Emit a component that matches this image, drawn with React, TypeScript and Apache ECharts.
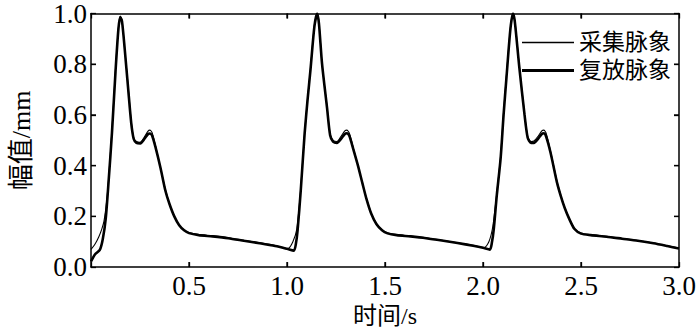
import React, { useEffect, useRef } from "react";
import * as echarts from "echarts";

const seriesNames = ["采集脉象", "复放脉象"];
const xTickValues = [0, 0.5, 1.0, 1.5, 2.0, 2.5, 3.0];
const yTickValues = [0, 0.2, 0.4, 0.6, 0.8, 1.0];

// 采集脉象 (thin line): [time s, amplitude mm]
const acquiredPulse: [number, number][] = [
  [0, 0.07], [0.02, 0.09], [0.04, 0.12], [0.055, 0.15], [0.066, 0.18], [0.08, 0.26], [0.09, 0.35],
  [0.107, 0.54], [0.125, 0.78], [0.14, 0.945], [0.149, 0.99], [0.158, 0.975], [0.172, 0.86],
  [0.19, 0.71], [0.205, 0.575], [0.218, 0.51], [0.232, 0.495], [0.25, 0.492], [0.27, 0.51],
  [0.29, 0.535], [0.3, 0.54], [0.312, 0.53], [0.33, 0.475], [0.355, 0.39], [0.38, 0.305],
  [0.4, 0.25], [0.425, 0.2], [0.45, 0.165], [0.475, 0.146], [0.5, 0.136], [0.55, 0.128],
  [0.62, 0.123], [0.7, 0.116], [0.78, 0.106], [0.86, 0.096], [0.94, 0.085], [1.005, 0.073],
  [1.03, 0.1], [1.05, 0.15], [1.07, 0.31], [1.09, 0.53], [1.105, 0.665], [1.12, 0.785],
  [1.14, 0.955], [1.154, 1.0], [1.163, 0.965], [1.179, 0.8], [1.204, 0.635], [1.22, 0.525],
  [1.235, 0.5], [1.255, 0.495], [1.275, 0.515], [1.295, 0.537], [1.305, 0.54], [1.318, 0.528],
  [1.34, 0.465], [1.362, 0.4], [1.385, 0.33], [1.405, 0.272], [1.43, 0.212], [1.456, 0.172],
  [1.485, 0.147], [1.513, 0.135], [1.56, 0.128], [1.63, 0.122], [1.71, 0.116], [1.79, 0.106],
  [1.87, 0.096], [1.95, 0.086], [2.005, 0.076],
  [2.03, 0.1], [2.05, 0.16], [2.07, 0.29], [2.09, 0.44], [2.105, 0.61], [2.12, 0.76],
  [2.14, 0.945], [2.153, 1.0], [2.163, 0.97], [2.185, 0.795], [2.212, 0.605], [2.228, 0.515],
  [2.245, 0.495], [2.26, 0.497], [2.28, 0.515], [2.3, 0.537], [2.31, 0.54], [2.322, 0.528],
  [2.345, 0.455], [2.377, 0.34], [2.397, 0.283], [2.417, 0.235], [2.44, 0.192], [2.467, 0.152],
  [2.5, 0.134], [2.55, 0.128], [2.63, 0.121], [2.71, 0.113], [2.79, 0.105], [2.87, 0.095],
  [2.94, 0.084], [3.0, 0.075],
];

// 复放脉象 (thick line): [time s, amplitude mm]
const replayedPulse: [number, number][] = [
  [0, 0.022], [0.02, 0.05], [0.045, 0.068], [0.06, 0.11], [0.075, 0.19], [0.09, 0.34],
  [0.107, 0.53], [0.125, 0.77], [0.14, 0.94], [0.149, 0.985], [0.158, 0.97], [0.172, 0.86],
  [0.19, 0.7], [0.205, 0.57], [0.218, 0.505], [0.232, 0.49], [0.252, 0.488], [0.272, 0.505],
  [0.29, 0.524], [0.3, 0.527], [0.312, 0.518], [0.33, 0.47], [0.355, 0.39], [0.38, 0.3],
  [0.4, 0.25], [0.425, 0.2], [0.45, 0.165], [0.475, 0.145], [0.5, 0.134], [0.55, 0.126],
  [0.62, 0.121], [0.7, 0.114], [0.78, 0.104], [0.86, 0.094], [0.94, 0.083], [1.0, 0.072],
  [1.035, 0.065],
  [1.045, 0.09], [1.054, 0.145], [1.07, 0.3], [1.09, 0.527], [1.105, 0.66], [1.12, 0.78],
  [1.14, 0.95], [1.154, 1.0], [1.163, 0.96], [1.179, 0.8], [1.204, 0.63], [1.22, 0.52],
  [1.235, 0.495], [1.255, 0.49], [1.275, 0.505], [1.295, 0.525], [1.305, 0.528], [1.318, 0.518],
  [1.34, 0.46], [1.362, 0.4], [1.385, 0.33], [1.405, 0.27], [1.43, 0.21], [1.456, 0.17],
  [1.485, 0.145], [1.513, 0.133], [1.56, 0.126], [1.63, 0.121], [1.71, 0.114], [1.79, 0.105],
  [1.87, 0.095], [1.95, 0.084], [2.0, 0.076], [2.035, 0.069],
  [2.045, 0.095], [2.055, 0.15], [2.07, 0.28], [2.09, 0.43], [2.105, 0.6], [2.12, 0.75],
  [2.14, 0.94], [2.153, 1.0], [2.162, 0.97], [2.185, 0.79], [2.212, 0.6], [2.228, 0.51],
  [2.245, 0.49], [2.26, 0.49], [2.28, 0.505], [2.3, 0.525], [2.31, 0.528], [2.322, 0.515],
  [2.345, 0.45], [2.377, 0.335], [2.397, 0.28], [2.417, 0.233], [2.44, 0.19], [2.467, 0.15],
  [2.5, 0.132], [2.55, 0.126], [2.63, 0.12], [2.71, 0.112], [2.79, 0.104], [2.87, 0.094],
  [2.94, 0.083], [3.0, 0.073],
];

const serif = "'Liberation Serif', 'Noto Sans CJK SC', serif";

const mkLine = () => ({ show: true, onZero: false, lineStyle: { color: "#000", width: 1.5 } });
const mkTick = () => ({ show: true, inside: true, length: 5, lineStyle: { color: "#000", width: 1.3 } });
const mkSplit = () => ({ show: false });

export default function App() {
  const ref = useRef<HTMLDivElement>(null);
  useEffect(() => {
    document.body.style.margin = "0";
    if (!ref.current) return;
    const chart = echarts.init(ref.current, null, { renderer: "svg" });
    const xMin = xTickValues[0];
    const xMax = xTickValues[xTickValues.length - 1];
    const yMin = yTickValues[0];
    const yMax = yTickValues[yTickValues.length - 1];
    chart.setOption({
      animation: false,
      grid: { left: 82, right: 21, top: 9, bottom: 62 },
      legend: {
        orient: "vertical",
        right: 24,
        top: 26,
        itemWidth: 52,
        itemHeight: 14,
        itemGap: 5,
        symbolKeepAspect: true,
        textStyle: { fontFamily: serif, fontSize: 23, color: "#000" },
        data: [
          { name: seriesNames[0], icon: "path://M0,0H52V1.4H0Z" },
          { name: seriesNames[1], icon: "path://M0,0H52V2.8H0Z" },
        ],
      },
      xAxis: [
        {
          type: "value",
          min: xMin,
          max: xMax,
          interval: 0.5,
          name: "时间/s",
          nameLocation: "middle",
          nameGap: 36,
          nameTextStyle: { fontFamily: serif, fontSize: 24, color: "#000" },
          axisLine: mkLine(),
          axisTick: mkTick(),
          splitLine: mkSplit(),
          axisLabel: {
            fontFamily: serif,
            fontSize: 27,
            color: "#000",
            margin: 5,
            formatter: (v: number) => (v === 0 ? "" : v.toFixed(1)),
          },
        },
        {
          type: "value",
          position: "top",
          min: xMin,
          max: xMax,
          interval: 0.5,
          axisLine: mkLine(),
          axisTick: mkTick(),
          axisLabel: { show: false },
          splitLine: mkSplit(),
        },
      ],
      yAxis: [
        {
          type: "value",
          min: yMin,
          max: yMax,
          interval: 0.2,
          name: "幅值/mm",
          nameLocation: "middle",
          nameGap: 57,
          nameTextStyle: { fontFamily: serif, fontSize: 26, color: "#000" },
          axisLine: mkLine(),
          axisTick: mkTick(),
          splitLine: mkSplit(),
          axisLabel: {
            fontFamily: serif,
            fontSize: 27,
            color: "#000",
            margin: 4,
            formatter: (v: number) => v.toFixed(1),
          },
        },
        {
          type: "value",
          position: "right",
          min: yMin,
          max: yMax,
          interval: 0.2,
          axisLine: mkLine(),
          axisTick: mkTick(),
          axisLabel: { show: false },
          splitLine: mkSplit(),
        },
      ],
      series: [
        {
          name: seriesNames[0],
          type: "line",
          data: acquiredPulse,
          showSymbol: false,
          smooth: 0.25,
          lineStyle: { color: "#000", width: 1.1 },
          itemStyle: { color: "#000" },
        },
        {
          name: seriesNames[1],
          type: "line",
          data: replayedPulse,
          showSymbol: false,
          smooth: 0.25,
          lineStyle: { color: "#000", width: 2.6 },
          itemStyle: { color: "#000" },
        },
      ],
    });

    // Inward tick marks on all four sides, placed through the axes' own scales.
    const px = (v: number) => chart.convertToPixel({ xAxisIndex: 0 }, v) as number;
    const py = (v: number) => chart.convertToPixel({ yAxisIndex: 0 }, v) as number;
    const left = px(xMin);
    const right = px(xMax);
    const bottom = py(yMin);
    const top = py(yMax);
    const len = 5;
    const tickStyle = { stroke: "#000", lineWidth: 1.3 };
    const ticks: any[] = [];
    xTickValues.slice(1, -1).forEach((v) => {
      const x = px(v);
      ticks.push({ type: "line", silent: true, shape: { x1: x, y1: bottom, x2: x, y2: bottom - len }, style: tickStyle });
      ticks.push({ type: "line", silent: true, shape: { x1: x, y1: top, x2: x, y2: top + len }, style: tickStyle });
    });
    yTickValues.slice(1, -1).forEach((v) => {
      const y = py(v);
      ticks.push({ type: "line", silent: true, shape: { x1: left, y1: y, x2: left + len, y2: y }, style: tickStyle });
      ticks.push({ type: "line", silent: true, shape: { x1: right, y1: y, x2: right - len, y2: y }, style: tickStyle });
    });
    chart.setOption({ graphic: ticks });

    return () => chart.dispose();
  }, []);
  return <div ref={ref} style={{ width: 700, height: 333 }} />;
}
